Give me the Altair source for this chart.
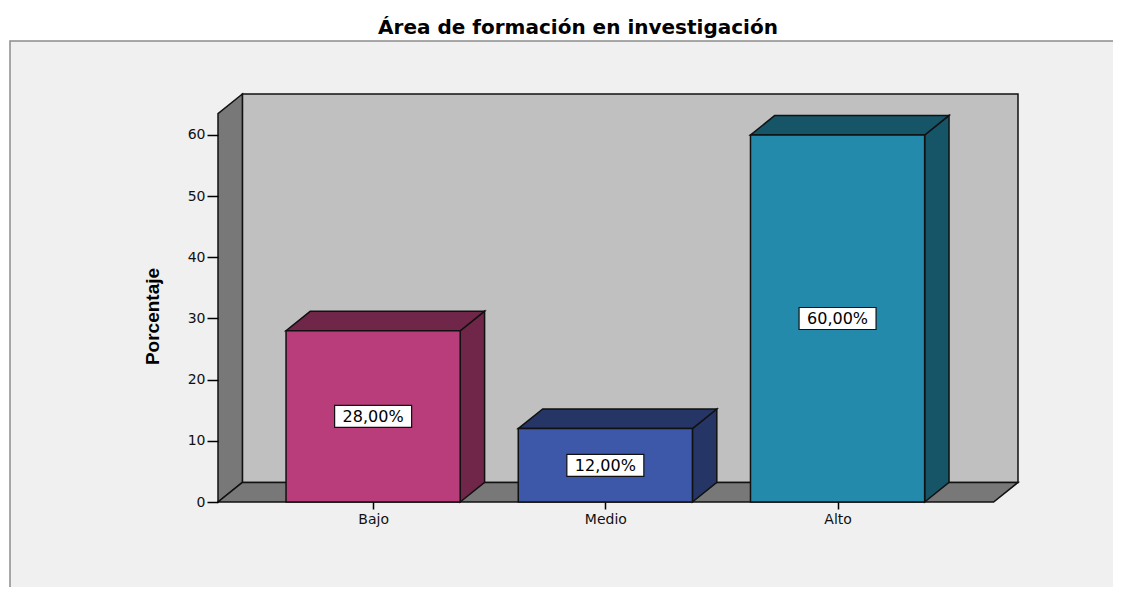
import json
import altair as alt
import pandas as pd

# ---------------- data ----------------
TITLE = "Área de formación en investigación"
Y_TITLE = "Porcentaje"
CATS = ["Bajo", "Medio", "Alto"]
VALUES = [28.0, 12.0, 60.0]
LABELS = ["28,00%", "12,00%", "60,00%"]
Y_TICKS = [0, 10, 20, 30, 40, 50, 60]

# ---------------- style ----------------
FRONT = ["#b93d7a", "#3d57a9", "#238aab"]
SIDE = ["#6f2649", "#253566", "#165467"]
WALL_BACK = "#c0c0c0"
WALL_SIDE = "#787878"
EDGE = "#111111"
FRAME_BG = "#f0f0f0"

HALF = 0.375      # half bar width (category units)
DX = 0.105        # 3D depth shift along x (category units)
DY = 3.2          # 3D depth shift along y (percent units)
FLOOR_L = -0.668
FLOOR_R = 2.672
WALL_TOP = 63.5
X_DOM = [FLOOR_L, FLOOR_R + DX]
Y_DOM = [0, WALL_TOP + DY]
W, H = 800, 408

xs = alt.Scale(domain=X_DOM, nice=False, zero=False)
ys = alt.Scale(domain=Y_DOM, nice=False, zero=False)

label_expr = "[" + ",".join(json.dumps(c) for c in CATS) + "][datum.value]"
AX_X = alt.Axis(values=[0, 1, 2], labelExpr=label_expr, title=None, domain=False,
                grid=False, tickSize=7, tickWidth=1.5, tickColor="#000",
                labelFont="DejaVu Sans", labelFontSize=14, labelColor="#111",
                labelPadding=3, labelFlush=False, zindex=1)
AX_Y = alt.Axis(values=Y_TICKS, format="d", title=Y_TITLE, domain=False, grid=False,
                tickSize=11, tickWidth=1.5, tickColor="#000",
                labelFont="DejaVu Sans", labelFontSize=14, labelColor="#111",
                labelPadding=2, titleFont="Liberation Sans", titleFontWeight="bold",
                titleFontSize=19, titleColor="#000", titleX=-66, titleY=222,
                titleAngle=270, titleAlign="center", titleBaseline="middle", zindex=1)


def X(f):
    return alt.X(f, type="quantitative", scale=xs, axis=AX_X, stack=None)


def Y(f):
    return alt.Y(f, type="quantitative", scale=ys, axis=AX_Y, stack=None)


# ---------------- tables ----------------
pos = list(range(len(CATS)))
bars = pd.DataFrame({"cat": CATS, "pos": pos, "v": VALUES, "label": LABELS,
                     "front": FRONT, "side": SIDE})
bars["x0"] = bars["pos"] - HALF
bars["x1"] = bars["pos"] + HALF
bars["y0"] = 0.0
bars["half"] = bars["v"] / 2

side_rows, top_rows = [], []
for c, p, v, s in zip(CATS, pos, VALUES, SIDE):
    side_rows.append({"cat": c, "x": p + HALF, "y": 0.0, "y2": v, "fill": s})
    side_rows.append({"cat": c, "x": p + HALF + DX, "y": DY, "y2": v + DY, "fill": s})
    top_rows.append({"cat": c, "y": v, "x": p - HALF, "x2": p + HALF, "fill": s})
    top_rows.append({"cat": c, "y": v + DY, "x": p - HALF + DX, "x2": p + HALF + DX, "fill": s})
side_df = pd.DataFrame(side_rows)
top_df = pd.DataFrame(top_rows)

back_df = pd.DataFrame({"x": [FLOOR_L + DX], "x2": [FLOOR_R + DX], "y": [DY], "y2": [WALL_TOP + DY]})
lwall_df = pd.DataFrame({"x": [FLOOR_L, FLOOR_L + DX], "y": [0.0, DY], "y2": [WALL_TOP, WALL_TOP + DY]})
floor_df = pd.DataFrame({"y": [0.0, DY], "x": [FLOOR_L, FLOOR_L + DX], "x2": [FLOOR_R, FLOOR_R + DX]})

# ---------------- layers ----------------
frame = alt.Chart(pd.DataFrame({"k": [0]})).mark_rect(
    fill=FRAME_BG, stroke="#8c8c8c", strokeWidth=1.5
).encode(x=alt.value(-208), x2=alt.value(905), y=alt.value(-53), y2=alt.value(600))

back = alt.Chart(back_df).mark_rect(fill=WALL_BACK, stroke=EDGE, strokeWidth=1.5).encode(
    x=X("x"), x2="x2", y=Y("y"), y2="y2")

lwall = alt.Chart(lwall_df).mark_area(orient="vertical", fill=WALL_SIDE, stroke=EDGE,
                                      strokeWidth=1.5, opacity=1).encode(
    x=X("x"), y=Y("y"), y2="y2")

floor = alt.Chart(floor_df).mark_area(orient="horizontal", fill=WALL_SIDE, stroke=EDGE,
                                      strokeWidth=1.5, opacity=1).encode(
    y=Y("y"), x=X("x"), x2="x2")

sides = alt.Chart(side_df).mark_area(orient="vertical", stroke=EDGE, strokeWidth=1.5,
                                     opacity=1).encode(
    x=X("x"), y=Y("y"), y2="y2", fill=alt.Fill("fill:N", scale=None), detail="cat:N")

tops = alt.Chart(top_df).mark_area(orient="horizontal", stroke=EDGE, strokeWidth=1.5,
                                   opacity=1).encode(
    y=Y("y"), x=X("x"), x2="x2", fill=alt.Fill("fill:N", scale=None), detail="cat:N")

fronts = alt.Chart(bars).mark_rect(stroke=EDGE, strokeWidth=1.5).encode(
    x=X("x0"), x2="x1", y=Y("y0"), y2="v", fill=alt.Fill("front:N", scale=None))

boxes = alt.Chart(bars).mark_point(
    shape="M-3.5,-1L3.5,-1L3.5,1L-3.5,1Z", size=484, filled=True, fill="white",
    stroke=EDGE, strokeWidth=1.2, opacity=1
).encode(x=X("pos"), y=Y("half"))

texts = alt.Chart(bars).mark_text(font="DejaVu Sans", fontSize=16, color="#000",
                                  baseline="middle", align="center", dy=1).encode(
    x=X("pos"), y=Y("half"), text="label:N")

chart = alt.layer(frame, back, lwall, floor, sides, tops, fronts, boxes, texts).properties(
    width=W, height=H,
    title=alt.TitleParams(TITLE, font="DejaVu Sans", fontSize=20, fontWeight="bold",
                          color="#000", anchor="middle", frame="group",
                          baseline="alphabetic", offset=7, dx=-40, dy=21),
    autosize=alt.AutoSizeParams(type="none"),
    padding={"left": 210, "top": 86, "right": 95, "bottom": 85},
    background="white",
).configure_view(stroke=None)

chart.save("out.html", embed_options={"renderer": "svg", "actions": False})
